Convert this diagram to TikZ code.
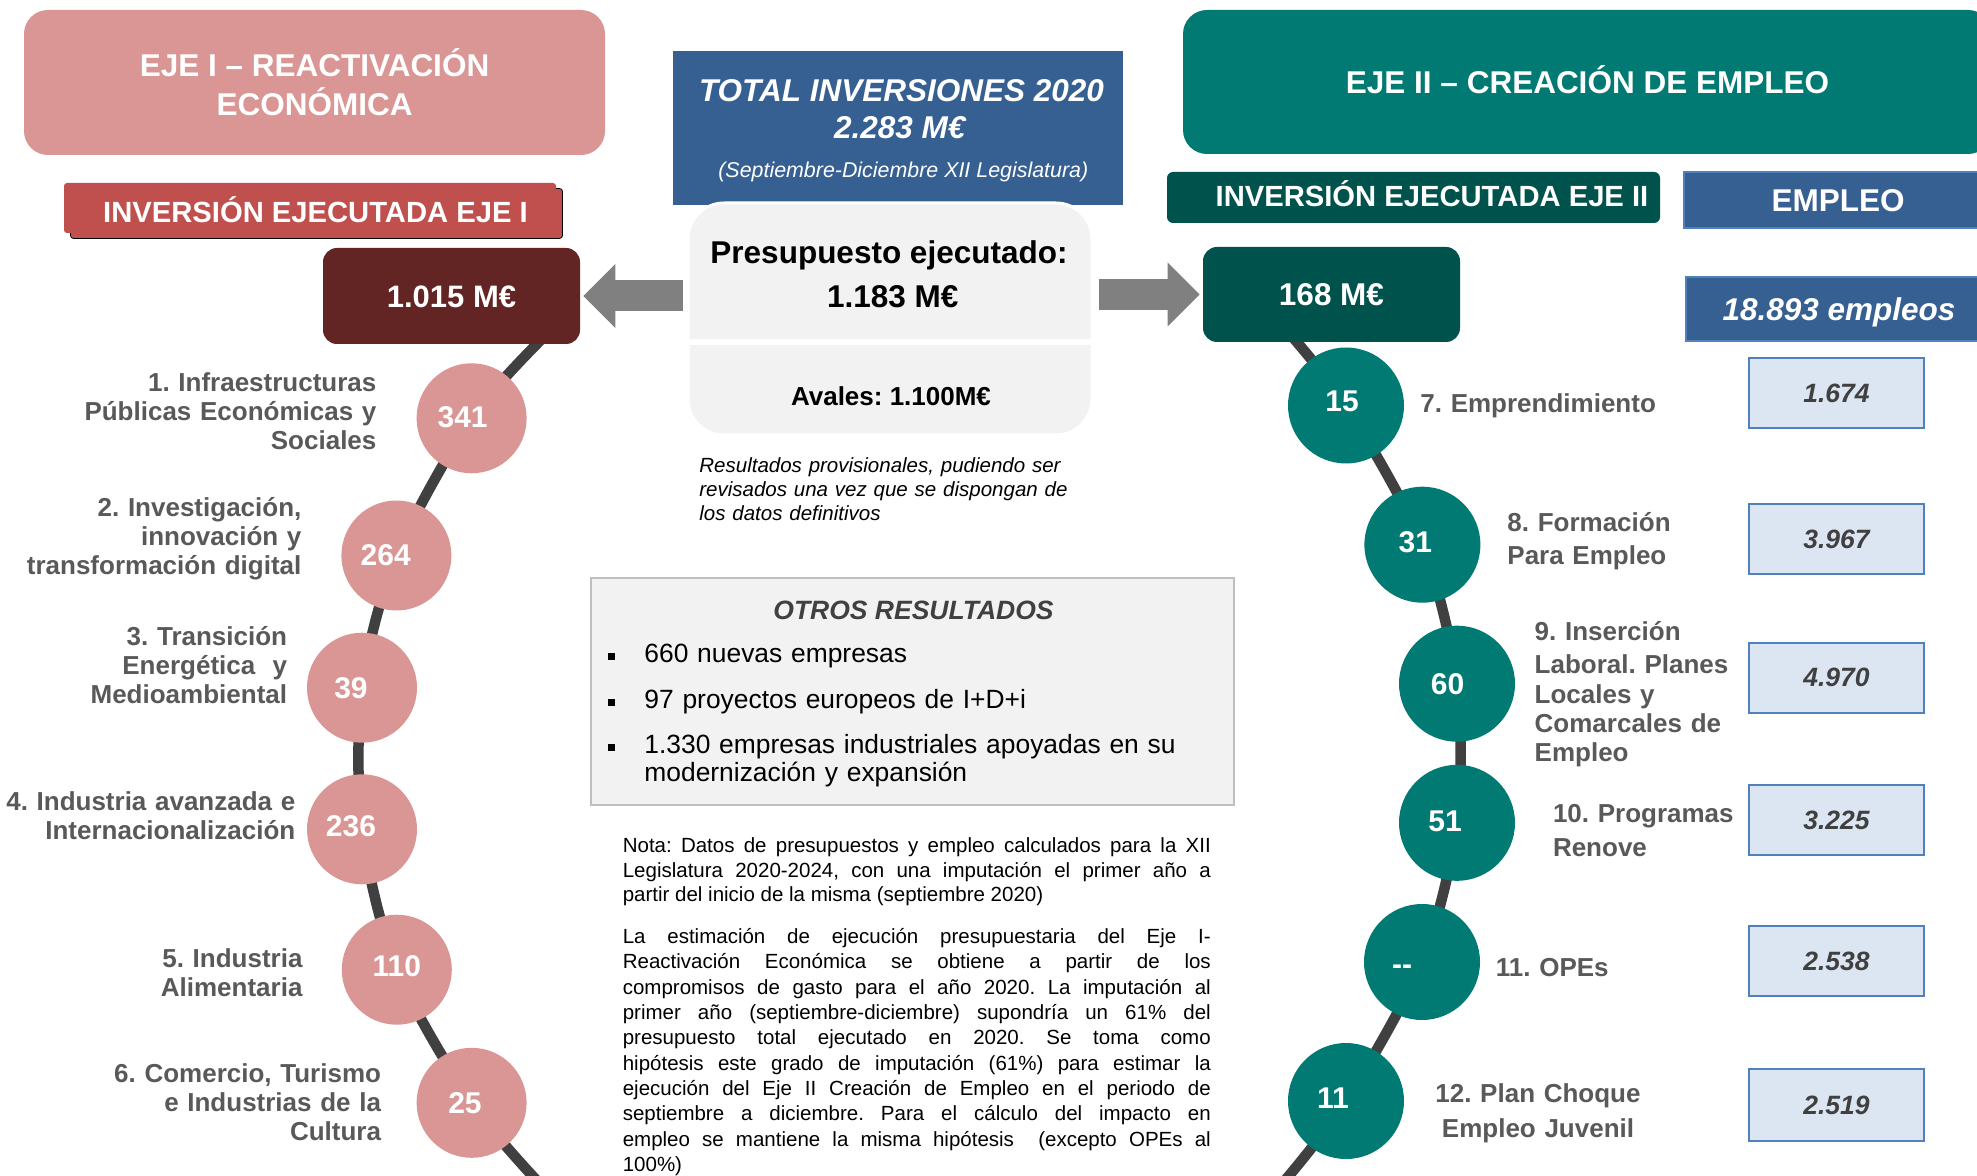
\documentclass[tikz,border=0pt]{standalone}
\usepackage{fontspec}
\setmainfont{Liberation Sans}
\usetikzlibrary{arrows.meta,backgrounds,calc,shadows}
\definecolor{pinkc}{HTML}{D99694}
\definecolor{redc}{HTML}{C0504D}
\definecolor{maroonc}{HTML}{632523}
\definecolor{bluec}{HTML}{376092}
\definecolor{blueline}{HTML}{4F81BD}
\definecolor{lightblue}{HTML}{DCE6F2}
\definecolor{tealc}{HTML}{007A73}
\definecolor{darkteal}{HTML}{00524C}
\definecolor{graytext}{HTML}{595959}
\definecolor{darktext}{HTML}{404040}
\definecolor{linec}{HTML}{404040}
\definecolor{arrowc}{HTML}{808080}
\definecolor{panel}{HTML}{F2F2F2}
\definecolor{panelline}{HTML}{BFBFBF}
\newcommand\myfs[2]{\fontsize{#1pt}{#2pt}\selectfont}
\frenchspacing
\begin{document}
\frenchspacing
\begin{tikzpicture}[x=0.5pt,y=-0.5pt,
  T/.style={font=\bfseries\myfs{#1}{#1}, text height={0.716*#1pt}, text depth=0pt, inner sep=0pt},
  TI/.style={font=\bfseries\itshape\myfs{#1}{#1}, text height={0.716*#1pt}, text depth=0pt, inner sep=0pt},
  ctext/.style={T=15, text=white},
  circL/.style={circle, fill=pinkc, minimum size=55pt, inner sep=0pt},
  circR/.style={circle, fill=tealc, minimum size=58pt, inner sep=0pt},
  conn/.style={draw=linec, line width=5.25pt},
  bigarrow/.style={draw=arrowc, line width=15.5pt, -{Triangle[length=16pt,width=32pt,line width=0pt]}},
  lblL/.style={font=\bfseries\myfs{13}{14.5}, text=graytext, text width=170pt, align=right, anchor=base east, inner sep=0pt},
  lblR/.style={font=\bfseries\myfs{13}{17}, text=graytext, text width=125pt, align=left, anchor=base west, inner sep=0pt},
  empbox/.style={fill=lightblue, draw=blueline, line width=1pt, minimum width=87.5pt, minimum height=35pt, inner sep=0pt, TI=13.25, text=darktext},
  bul/.style={fill=black, minimum size=3.5pt, inner sep=0pt},
  itm/.style={font=\myfs{13.2}{14.2}, text=black, text width=300pt, align=left, anchor=base west, inner sep=0pt},
  nota/.style={text width=294pt, align=justify, anchor=base west, inner sep=0pt, text=black},
]
\begin{pgfonlayer}{background}
\fill[white] (0,0) rectangle (1977,1176);
\end{pgfonlayer}
\useasboundingbox (0,0) rectangle (1977,1176);

% ---------- EJE I header ----------
\node[fill=pinkc, rounded corners=12pt, minimum width=290.5pt, minimum height=72.5pt, inner sep=0pt,
      text=white, font=\bfseries\myfs{15.75}{19.5}, align=center] (eje1) at (314.5,82.5)
      {EJE I – REACTIVACIÓN\\ECONÓMICA};
\node[fill=redc, rounded corners=1.5pt, minimum width=246pt, minimum height=25pt, inner sep=0pt,
      copy shadow={shadow xshift=3.25pt, shadow yshift=-2.75pt},
      label={[T=14.6, text=white, xshift=2.75pt, yshift=-2.15pt]center:INVERSIÓN EJECUTADA EJE I}] (inv1) at (310,208) {};
\node[fill=maroonc, rounded corners=7pt, minimum width=128.5pt, minimum height=48pt, T=15.5, text=white] (m1) at (451.5,296) {1.015 M€};

% ---------- centre ----------
\node[fill=bluec, minimum width=225pt, minimum height=77pt, inner sep=0pt] (tot) at (898,128) {};
\node[TI=15.75, text=white, anchor=base] (tot1) at (901.5,101.8) {TOTAL INVERSIONES 2020};
\node[TI=15.75, text=white, anchor=base] (tot2) at (899.8,138.6) {2.283 M€};
\node[font=\itshape\myfs{10.7}{10.7}, text=white, anchor=base, inner sep=0pt] (tot3) at (903.3,177.5) {(Septiembre-Diciembre XII Legislatura)};

\node[fill=panel, draw=white, line width=1.5pt, rounded corners=18pt, minimum width=202pt, minimum height=116pt, inner sep=0pt] (pres) at (890,319) {};
\draw[white, line width=3pt] ([yshift=-11.75pt]pres.west) -- ([yshift=-11.75pt]pres.east);
\node[T=15.75, anchor=base] (p1) at (889,263.6) {Presupuesto ejecutado:};
\node[T=15.75, anchor=base] (p2) at (892.7,307.9) {1.183 M€};
\node[T=13, anchor=base] (p3) at (891,405.4) {Avales: 1.100M€};
\node[font=\itshape\myfs{10.25}{12}, text width=200pt, align=left, anchor=base west, inner sep=0pt] (res) at (699,473)
  {Resultados provisionales, pudiendo ser\\revisados una vez que se dispongan de\\los datos definitivos};

% ---------- EJE II header ----------
\node[fill=tealc, rounded corners=12pt, minimum width=404.5pt, minimum height=72pt, T=15.75, text=white] (eje2) at (1587.5,82) {EJE II – CREACIÓN DE EMPLEO};
\node[fill=darkteal, rounded corners=3pt, minimum width=246.5pt, minimum height=25.5pt, inner sep=0pt,
      label={[T=14.6, text=white, xshift=9.25pt, yshift=0.6pt]center:INVERSIÓN EJECUTADA EJE II}] (inv2) at (1413.5,197.5) {};
\node[fill=bluec, draw=blueline, line width=1pt, minimum width=154pt, minimum height=28pt, T=15.75, text=white] (emp) at (1838,200) {EMPLEO};
\node[fill=darkteal, rounded corners=7pt, minimum width=128.5pt, minimum height=47.5pt, T=15.75, text=white] (m2) at (1331.5,294.5) {168 M€};
\node[fill=bluec, draw=blueline, line width=1pt, minimum width=153pt, minimum height=32pt, TI=15.75, text=white] (emptot) at (1839,309) {18.893 empleos};

% ---------- arrows ----------
\draw[bigarrow] ($(pres.west |- m1.east)+(-4,0)$) -- ($(m1.east)+(3,0)$);
\draw[bigarrow] ($(pres.east |- m2.west)+(5,0)$) -- ($(m2.west)+(-3,0)$);

% ---------- left circles ----------
\node[circL, label={[ctext, xshift=-4.5pt, yshift=0.85pt]center:341}] (c1) at (471.6,418.3) {};
\node[circL, label={[ctext, xshift=-5.35pt, yshift=0.6pt]center:264}] (c2) at (396.4,555.5) {};
\node[circL, label={[ctext, xshift=-5.5pt]center:39}] (c3) at (362,687.7) {};
\node[circL, label={[ctext, xshift=-5.5pt, yshift=1.6pt]center:236}] (c4) at (362,829.3) {};
\node[circL, label={[ctext, yshift=1.85pt]center:110}] (c5) at (396.8,969.7) {};
\node[circL, label={[ctext, xshift=-3.3pt]center:25}] (c6) at (471.6,1102.8) {};

\node[lblL] (l1) at (376.8,391.7) {1. Infraestructuras\\Públicas Económicas y\\Sociales};
\node[lblL] (l2) at (301.8,516.7) {2. Investigación,\\innovación y\\transformación digital};
\node[lblL] (l3) at (287.5,646) {3. Transición\\Energética\ \ y\\Medioambiental};
\node[lblL] (l4) at (295.7,810) {4. Industria avanzada e\\Internacionalización};
\node[lblL] (l5) at (302.9,967.3) {5. Industria\\Alimentaria};
\node[lblL] (l6) at (381.4,1082.7) {6. Comercio, Turismo\\e Industrias de la\\Cultura};

% ---------- right circles ----------
\node[circR, label={[ctext, xshift=-2pt, yshift=2.3pt]center:15}] (c7) at (1346,405.5) {};
\node[circR, label={[ctext, xshift=-3.5pt, yshift=1.25pt]center:31}] (c8) at (1422.4,544.7) {};
\node[circR, label={[ctext, xshift=-4.75pt]center:60}] (c9) at (1457,683.7) {};
\node[circR, label={[ctext, xshift=-6pt, yshift=0.9pt]center:51}] (c10) at (1457,822.8) {};
\node[circR, label={[ctext, xshift=-10pt, yshift=-1pt]center:-{}-}] (c11) at (1422,962) {};
\node[circR, label={[ctext, xshift=-6.5pt, yshift=1.75pt]center:11}] (c12) at (1346,1101) {};

\node[lblR] (l7) at (1420,412.3) {7. Emprendimiento};
\node[lblR, font=\bfseries\myfs{13}{16.65}] (l8) at (1507,531.7) {8. Formación\\Para Empleo};
\node[lblR, font=\bfseries\myfs{13}{14.5}] (l9) at (1534.3,640) {9. Inserción\\[2.5pt]Laboral. Planes\\Locales y\\Comarcales de\\Empleo};
\node[lblR] (l10) at (1552.6,822.7) {10. Programas\\Renove};
\node[lblR] (l11) at (1495.5,976.7) {11. OPEs};
\node[lblR, align=center, anchor=base, font=\bfseries\myfs{13}{17.3}] (l12) at (1538,1102.7) {12. Plan Choque\\Empleo Juvenil};

% ---------- employment boxes ----------
\node[empbox] (e7) at (1836.5,393.3) {1.674};
\node[empbox] (e8) at (1836.5,539.5) {3.967};
\node[empbox] (e9) at (1836.5,677.5) {4.970};
\node[empbox] (e10) at (1836.5,820) {3.225};
\node[empbox] (e11) at (1836.5,961) {2.538};
\node[empbox, minimum height=36pt] (e12) at (1836.5,1105.2) {2.519};

% ---------- otros resultados ----------
\node[fill=panel, draw=panelline, line width=1pt, minimum width=321.5pt, minimum height=113.5pt, inner sep=0pt] (otros) at (912,691.7) {};
\node[TI=13.25, text=darktext, anchor=base] (ot) at (913.5,619.3) {OTROS RESULTADOS};
\node[bul] (b1) at (611.6,656.7) {};
\node[bul] (b2) at (611.6,702.3) {};
\node[bul] (b3) at (611.6,747.3) {};
\node[itm] (i1) at (644,662.7) {660 nuevas empresas};
\node[itm] (i2) at (644,708.3) {97 proyectos europeos de I+D+i};
\node[itm] (i3) at (644,753.3) {1.330 empresas industriales apoyadas en su\\modernización y expansión};

% ---------- nota ----------
\node[nota, font=\myfs{10.25}{12.25}] (nota1) at (622.4,852.7)
 {\tolerance=9999\hyphenpenalty=10000 Nota: Datos de presupuestos y empleo calculados para la XII\linebreak Legislatura 2020-2024, con una imputación el primer año a\linebreak partir del inicio de la misma (septiembre 2020)};
\node[nota, font=\myfs{10.25}{12.69}] (nota2) at (622.4,943.3)
 {\tolerance=9999\hyphenpenalty=10000 La estimación de ejecución presupuestaria del Eje I-\linebreak Reactivación Económica se obtiene a partir de los\linebreak compromisos de gasto para el año 2020. La imputación al\linebreak primer año (septiembre-diciembre) supondría un 61\% del\linebreak presupuesto total ejecutado en 2020. Se toma como\linebreak hipótesis este grado de imputación (61\%) para estimar la\linebreak ejecución del Eje II Creación de Empleo en el periodo de\linebreak septiembre a diciembre. Para el cálculo del impacto en\linebreak empleo se mantiene la misma hipótesis\ \ (excepto OPEs al\linebreak 100\%)};

% ---------- connectors ----------
\coordinate (startL) at ($(m1.south east)+(-35,-9)$);
\coordinate (endL) at (540,1184);
\coordinate (startR) at ($(m2.south west)+(79,-18)$);
\coordinate (endR) at (1282,1184);
\begin{pgfonlayer}{background}
\draw[conn] plot[smooth, tension=0.5] coordinates {(startL) (c1.center) (c2.center) (c3.center) (c4.center) (c5.center) (c6.center) (endL)};
\draw[conn] plot[smooth, tension=0.5] coordinates {(startR) (c7.center) (c8.center) (c9.center) (c10.center) (c11.center) (c12.center) (endR)};
\end{pgfonlayer}
\end{tikzpicture}
\end{document}
